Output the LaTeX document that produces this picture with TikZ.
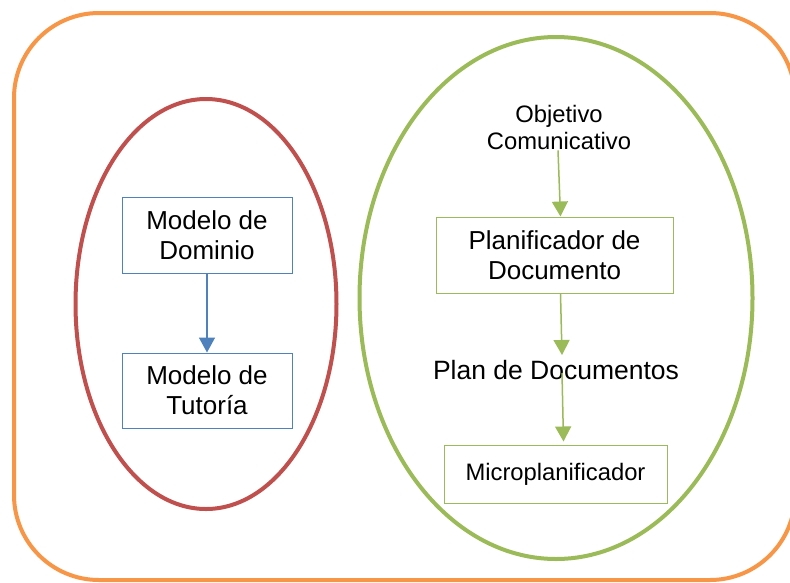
\documentclass[tikz,border=0pt]{standalone}
\usepackage{fontspec}
\setmainfont{Liberation Sans}
\usetikzlibrary{shapes.geometric,arrows.meta,calc}
\definecolor{offorange}{HTML}{F79646}
\definecolor{offred}{HTML}{C0504D}
\definecolor{offgreen}{HTML}{9BBB59}
\definecolor{offblue}{HTML}{4F81BD}
\tikzset{
  bluebox/.style={draw=offblue, line width=1pt, align=center, inner sep=0pt,
    minimum width=170pt, font=\fontsize{26}{30}\selectfont},
  greenbox/.style={draw=offgreen, line width=1pt, align=center, inner sep=0pt,
    font=\fontsize{26}{30}\selectfont},
  plaintext/.style={align=center, inner sep=0pt},
  bluearrow/.style={draw=offblue, line width=1.5pt, -{Triangle[length=15pt,width=16pt]}},
  greenarrow/.style={draw=offgreen, line width=1.5pt, -{Triangle[length=15pt,width=16pt]}},
  bigoval/.style={ellipse, line width=4pt, inner sep=0pt}
}
\begin{document}
\begin{tikzpicture}[x=1pt,y=-1pt]
\useasboundingbox (0,0) rectangle (790,582);
\clip (0,0) rectangle (790,582);
\fill[white] (0,0) rectangle (790,582);
% outer frame
\draw[offorange, line width=4pt, rounded corners=85pt] (14,13) rectangle (795,580);
% ovals
\node[bigoval, draw=offred, minimum width=261pt, minimum height=410pt] (redov) at (206,304) {};
\node[bigoval, draw=offgreen, minimum width=393pt, minimum height=522pt] (greenov) at (556,298) {};
% left boxes
\node[bluebox, minimum height=76pt] (dom) at (207,235) {Modelo de\\Dominio};
\node[bluebox, minimum height=75pt] (tut) at (207,390.5) {Modelo de\\Tutoría};
\draw[bluearrow] (dom.south) -- (tut.north);
% right side
\node[plaintext, font=\fontsize{23.8}{27}\selectfont] (obj) at (559,127) {Objetivo\\Comunicativo};
\node[greenbox, minimum width=237pt, minimum height=76pt] (plan) at (554.5,255) {Planificador de\\Documento};
\node[plaintext, font=\fontsize{26.5}{30}\selectfont] (plandoc) at (556,370) {Plan de Documentos};
\node[greenbox, minimum width=223pt, minimum height=58pt, font=\fontsize{23.8}{28}\selectfont] (micro) at (555.5,474) {Microplanificador};
\coordinate (a1s) at ($(obj.south)+(-1,1)$);
\coordinate (a1e) at ($(plan.north)+(6,0)$);
\draw[greenarrow] (a1s) -- (a1e);
\coordinate (a2s) at ($(plan.south)+(6,0)$);
\coordinate (a2e) at ($(plandoc.center)+(6,-15)$);
\draw[greenarrow] (a2s) -- (a2e);
\coordinate (a3s) at ($(plandoc.center)+(6,3)$);
\coordinate (a3e) at ($(micro.north)+(8,-3)$);
\draw[greenarrow] (a3s) -- (a3e);
\end{tikzpicture}
\end{document}
